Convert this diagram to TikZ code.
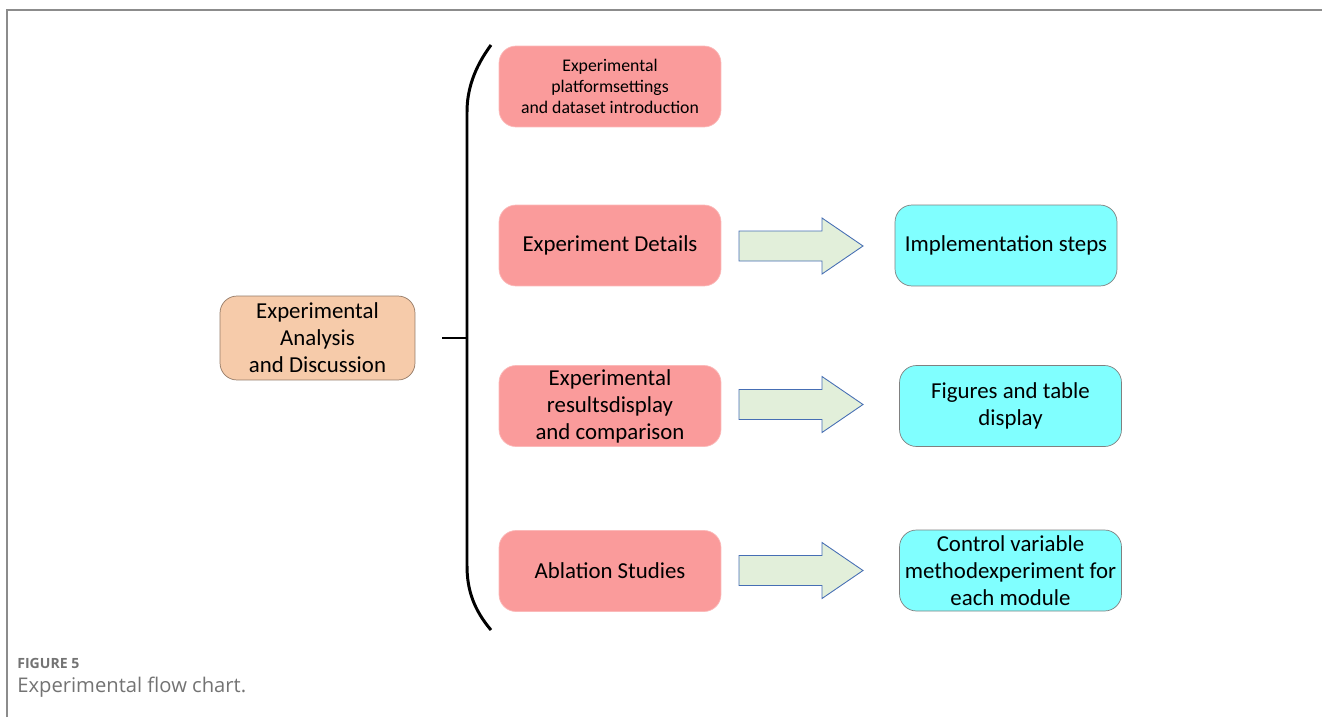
\documentclass[tikz,border=0pt]{standalone}
\usepackage{fontspec}
\setmainfont{Carlito}
\newfontfamily\capfont{Open Sans}
\definecolor{redbox}{RGB}{250,155,155}
\definecolor{peach}{RGB}{246,203,170}
\definecolor{cyanbox}{RGB}{128,255,255}
\definecolor{greenarr}{RGB}{226,239,218}
\definecolor{bluearr}{RGB}{70,110,180}
\definecolor{framegray}{RGB}{140,140,140}

\tikzset{
  redstep/.style={rectangle, rounded corners=0.34cm, fill=redbox, draw=redbox!70!white,
    minimum width=4.44cm, minimum height=1.62cm, align=center, inner sep=1pt,
    font=\fontsize{13}{15.4}\selectfont},
  mainbox/.style={rectangle, rounded corners=0.34cm, fill=peach, draw=peach!60!black,
    minimum width=3.9cm, minimum height=1.68cm, align=center, inner sep=1pt,
    font=\fontsize{13}{15.4}\selectfont},
  cyanstep/.style={rectangle, rounded corners=0.34cm, fill=cyanbox, draw=gray,
    minimum width=4.44cm, minimum height=1.62cm, align=center, inner sep=1pt,
    font=\fontsize{13}{15.4}\selectfont},
  blockarrow/.style={fill=greenarr, draw=bluearr, line width=0.5pt, line join=miter}
}

\begin{document}
\begin{tikzpicture}[x=0.02cm,y=-0.02cm]
    \useasboundingbox (0,0) rectangle (1322,717);
    \draw [framegray, line width=1.1pt] (7,717) -- (7,10) -- (1322,10);
    \node [mainbox] (analysis) at (317.5,338) {Experimental\\Analysis\\and Discussion};
    \node [redstep, font=\fontsize{10.1}{12}\selectfont] (platform) at (610,86.5) {Experimental\\platformsettings\\and dataset introduction};
    \node [redstep] (details) at (610,245.5) {Experiment Details};
    \node [redstep] (results) at (610,406) {Experimental\\resultsdisplay\\and comparison};
    \node [redstep] (ablation) at (610,571) {Ablation Studies};
    \node [cyanstep] (steps) at (1006,245.5) {Implementation steps};
    \node [cyanstep] (figures) at (1010.5,406) {Figures and table\\display};
    \node [cyanstep] (control) at (1010.5,570.5) {Control variable\\methodexperiment for\\each module};
    \foreach \yy/\name in {246/det, 404.5/res, 570.5/abl} {
        \coordinate (arr\name) at (739,\yy);
        \draw [blockarrow] (arr\name) ++(0,-15) -- ++(83,0) -- ++(0,-13) -- ++(41,28)
            -- ++(-41,28) -- ++(0,-13) -- ++(-83,0) -- cycle;
    }
    \coordinate (bracetop) at (491,45);
    \coordinate (bracebot) at (491,630);
    \coordinate (bracemid) at (467,338);
    \draw [black, line width=1.7pt] (bracetop) .. controls (474,68) and (467,90) .. (467,112)
        -- (467,566) .. controls (467,590) and (474,610) .. (bracebot);
    \draw [black, line width=1.7pt] (442,338) -- (bracemid);
    \node [anchor=base west, inner sep=0pt, text=gray!90!black, font=\capfont\bfseries\fontsize{8}{9}\selectfont] (figlabel) at (17,668) {FIGURE 5};
    \node [anchor=base west, inner sep=0pt, text=gray!90!black, font=\capfont\fontsize{11.5}{13}\selectfont] (caption) at (17,692) {Experimental flow chart.};
\end{tikzpicture}
\end{document}
